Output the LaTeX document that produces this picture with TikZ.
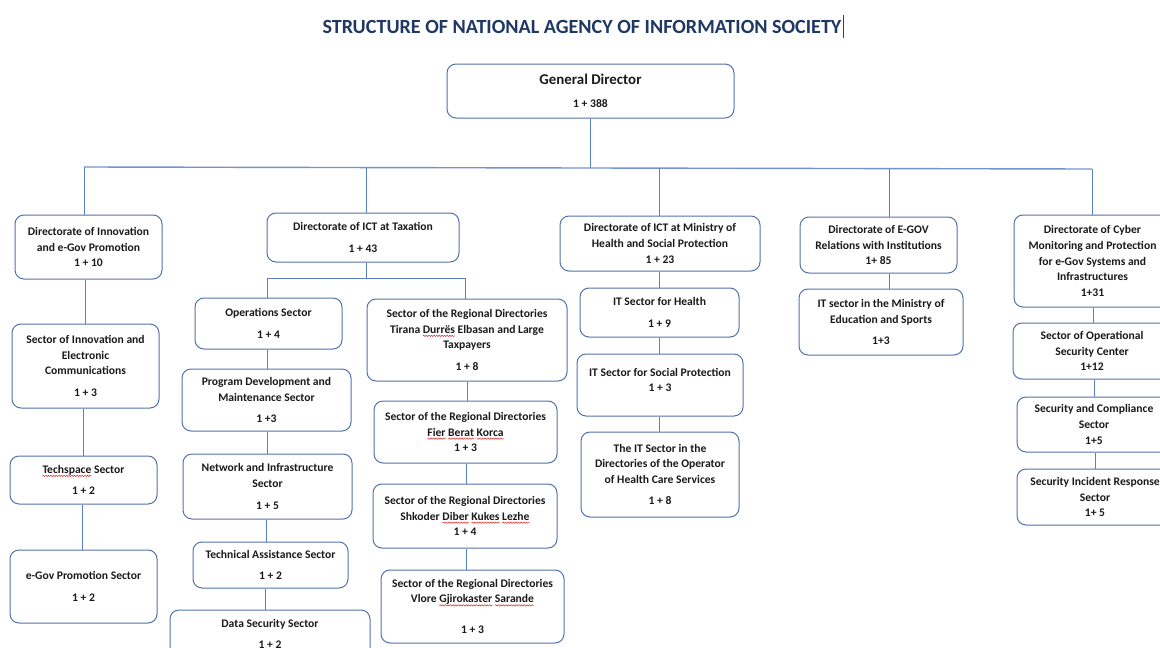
\documentclass[tikz,border=0pt]{standalone}
\usepackage{fontspec}
\setmainfont{Carlito}
\usetikzlibrary{decorations.pathmorphing}
\definecolor{boxblue}{HTML}{5372AC}
\definecolor{linkblue}{HTML}{5A7FC6}
\definecolor{titleblue}{HTML}{1F3864}
\definecolor{txt}{HTML}{1A1A1A}
\definecolor{squigred}{HTML}{E02A2A}
\newsavebox\sqbox
\newcommand\squig[1]{\sbox\sqbox{#1}\makebox[0pt][l]{\tikz[overlay]\draw[sharp corners, squigred, line width=0.5pt, decorate, decoration={snake, amplitude=0.7pt, segment length=2.6pt}] (0pt,-2.6pt) -- (\wd\sqbox,-2.6pt);}\usebox\sqbox}
\newcommand\bx[6]{\node[orgbox, minimum width={#4pt-#2pt}, minimum height={#5pt-#3pt}] (#1) at ({(#2+#4)/2},{(#3+#5)/2}) {#6};}
\begin{document}
\begin{tikzpicture}[x=1pt,y=-1pt,
  orgbox/.style={draw=boxblue, line width=1pt, rounded corners=9pt, fill=white, align=center, inner sep=0pt, text=txt, font=\bfseries\fontsize{11.6}{15.6}\selectfont},
  link/.style={draw=linkblue, line width=1pt},
  bus/.style={draw=linkblue!85, line width=1.4pt}]
\useasboundingbox[fill=white] (0,0) rectangle (1160,648);

% title
\node[font=\bfseries\fontsize{20.1}{23}\selectfont, text=titleblue, inner sep=0pt] (title) at (582,27) {STRUCTURE OF NATIONAL AGENCY OF INFORMATION SOCIETY};
\draw[black!75, line width=0.8pt] (843,15) -- (843,38);

% general director
\node[orgbox, minimum width=287pt, minimum height=54pt] (gd) at (590.5,91) {{\fontsize{14.9}{17}\selectfont General Director}\\[7pt]1 + 388};

% bus
\coordinate (j1) at (84,167);
\coordinate (j2) at (366,167.56);
\coordinate (j0) at (590.5,168.0);
\coordinate (j3) at (659,168.14);
\coordinate (j4) at (889,168.6);
\coordinate (j5) at (1092,169);
\draw[link] (gd.south) -- (j0);
\draw[bus] (j1) -- (j5);

% column 1
\bx{dinn}{15}{215}{162}{279}{Directorate of Innovation\\and e-Gov Promotion\\1 + 10}
\bx{sinn}{12}{324}{159}{408}{Sector of Innovation and\\Electronic\\Communications\\[6pt]1 + 3}
\bx{tech}{10}{456}{157}{504}{\squig{Techspace} Sector\\[6pt]1 + 2}
\bx{egov}{10}{550}{157}{623}{e-Gov Promotion Sector\\[6pt]1 + 2}

% column 2
\bx{dtax}{267}{213}{459}{262}{Directorate of ICT at Taxation\\[6pt]1 + 43}
\bx{ops}{195}{298}{342}{349}{Operations Sector\\[6pt]1 + 4}
\bx{prog}{182}{369}{351}{431}{Program Development and\\Maintenance Sector\\[6pt]1 +3}
\bx{net}{183}{454}{352}{519}{Network and Infrastructure\\Sector\\[6pt]1 + 5}
\bx{tas}{193}{542}{348}{588}{Technical Assistance Sector\\[6pt]1 + 2}
\bx{dsec}{170}{610}{370}{658}{Data Security Sector\\[6pt]1 + 2}
\bx{tir}{367}{299}{567}{381}{Sector of the Regional Directories\\Tirana \squig{Durrës} Elbasan and Large\\Taxpayers\\[6pt]1 + 8}
\bx{fier}{374}{401}{557}{463}{Sector of the Regional Directories\\\squig{Fier} \squig{Berat} \squig{Korca}\\1 + 3}
\bx{shk}{373}{484}{557}{548}{Sector of the Regional Directories\\Shkoder \squig{Diber} \squig{Kukes} \squig{Lezhe}\\1 + 4}
\bx{vlo}{381}{570}{564}{643}{Sector of the Regional Directories\\Vlore \squig{Gjirokaster} \squig{Sarande}\\[15.5pt]1 + 3}

% column 3
\bx{dhea}{560}{216}{760}{271}{Directorate of ICT at Ministry of\\Health and Social Protection\\1 + 23}
\bx{ith}{580}{288}{739}{337}{IT Sector for Health\\[6pt]1 + 9}
\bx{its}{577}{354}{743}{416}{IT Sector for Social Protection\\1 + 3\rule[-10pt]{0pt}{10pt}}
\bx{ithc}{581}{432}{739}{517}{The IT Sector in the\\Directories of the Operator\\of Health Care Services\\[6pt]1 + 8}

% column 4
\bx{degov}{800}{217}{957}{273}{Directorate of E-GOV\\Relations with Institutions\\1+ 85}
\bx{imoe}{799}{289}{963}{355}{IT sector in the Ministry of\\Education and Sports\\[6pt]1+3}

% column 5
\bx{dcyb}{1014}{215}{1171}{307}{Directorate of Cyber\\Monitoring and Protection\\for e-Gov Systems and\\Infrastructures\\1+31}
\bx{osc}{1013}{323}{1171}{379}{Sector of Operational\\Security Center\\1+12}
\bx{scs}{1017}{397}{1171}{452}{Security and Compliance\\Sector\\1+5}
\bx{sir}{1017}{469}{1173}{525}{Security Incident Response\\Sector\\1+ 5}

% drops from bus
\draw[link] (j1) -- (j1 |- dinn.north);
\draw[link] (j2) -- (j2 |- dtax.north);
\draw[link] (j3) -- (j3 |- dhea.north);
\draw[link] (j4) -- (j4 |- degov.north);
\draw[link] (j5) -- (j5 |- dcyb.north);

% column 1 links
\draw[link] (dinn.south -| 85,0) -- (sinn.north -| 85,0);
\draw[link] (sinn.south -| 83,0) -- (tech.north -| 83,0);
\draw[link] (tech.south -| 82,0) -- (egov.north -| 82,0);

% column 2 links
\coordinate (fk) at (366,278);
\coordinate (fkl) at (267,278);
\coordinate (fkr) at (465,278);
\draw[link] (dtax.south -| fk) -- (fk);
\draw[link] (fkl) -- (fkr);
\draw[link] (fkl) -- (fkl |- ops.north);
\draw[link] (fkr) -- (fkr |- tir.north);
\draw[link] (ops.south -| 267,0) -- (prog.north -| 267,0);
\draw[link] (prog.south -| 267,0) -- (net.north -| 267,0);
\draw[link] (net.south -| 266,0) -- (tas.north -| 266,0);
\draw[link] (tas.south -| 265,0) -- (dsec.north -| 265,0);
\draw[link] (tir.south -| 467,0) -- (fier.north -| 467,0);
\draw[link] (fier.south -| 466,0) -- (shk.north -| 466,0);
\draw[link] (shk.south -| 466,0) -- (vlo.north -| 466,0);

% column 3 links
\draw[link] (dhea.south -| 659,0) -- (ith.north -| 659,0);
\draw[link] (ith.south -| 659,0) -- (its.north -| 659,0);
\draw[link] (its.south -| 659,0) -- (ithc.north -| 659,0);

% column 4 links
\draw[link] (degov.south -| 889,0) -- (imoe.north -| 889,0);

% column 5 links
\draw[link] (dcyb.south -| 1093,0) -- (osc.north -| 1093,0);
\draw[link] (osc.south -| 1094,0) -- (scs.north -| 1094,0);
\draw[link] (scs.south -| 1095,0) -- (sir.north -| 1095,0);
\end{tikzpicture}
\end{document}
